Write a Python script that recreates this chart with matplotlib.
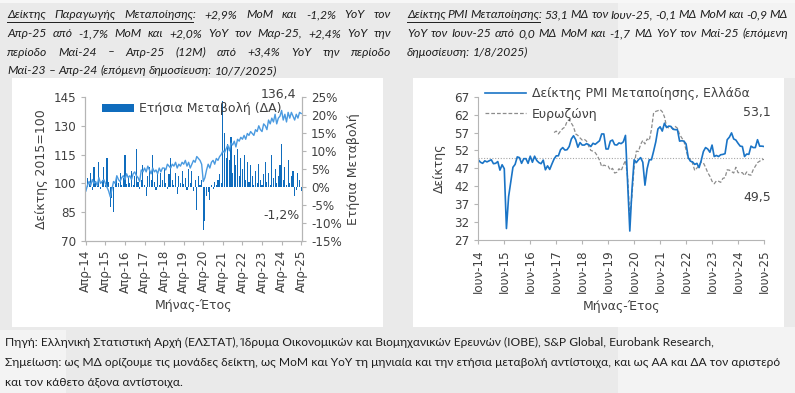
import matplotlib
matplotlib.use('Agg')
import matplotlib.pyplot as plt
import numpy as np
from matplotlib.patches import Rectangle, Patch
from matplotlib.lines import Line2D

# ---------------- DATA ----------------
# Industrial production index (2015=100), Apr-14 .. Apr-25
ipi_index = [
    96, 99, 101, 99, 102, 100, 101, 99, 103, 100, 101, 102,
    100, 98, 96, 93, 97, 101, 100, 104, 102, 101, 103, 104,
    102, 105, 103, 104, 102, 105, 106, 104, 103, 101, 107, 106,
    108, 106, 109, 107, 105, 108, 106, 107, 105, 108, 106, 108,
    108, 107, 110, 109, 108, 110, 109, 111, 108, 110, 109, 111,
    110, 112, 109, 111, 108, 110, 112, 111, 114, 113, 112, 110,
    101, 103, 107, 110, 108, 111, 112, 110, 113, 112, 114, 115,
    117, 116, 118, 120, 117, 121, 120, 122, 119, 123, 122, 124,
    123, 125, 123, 126, 125, 127, 126, 125, 128, 127, 130, 128,
    127, 131, 130, 128, 133, 131, 134, 132, 136, 131, 134, 135,
    138, 133, 136, 132, 137, 134, 137, 135, 133, 136, 134, 137,
    136.4]
# Year-on-year change (%), Apr-14 .. Apr-25
ipi_yoy = [
    -1.5, 2.5, 0.8, 4.0, -0.8, 5.5, 1.0, 0.3, 7.0, -0.6, 2.0, 5.5,
    0.5, 8.0, 1.5, -5.5, -3.0, -7.0, 1.5, 3.0, 1.0, 4.0, 0.5, 2.5,
    9.0, 0.8, 2.5, 1.0, 4.5, 0.5, 3.0, 10.5, 1.5, -0.5, 2.0, 6.0,
    0.5, -2.5, 3.0, 5.5, 2.0, 9.0, 1.5, -0.8, 3.5, 0.5, 4.0, 2.0,
    5.0, 1.0, -0.5, 3.5, 8.0, 2.0, 0.5, 4.0, -2.0, 3.0, 1.0, 4.5,
    0.8, 2.5, -0.8, 5.0, 1.0, 4.5, -1.0, 2.0, -6.5, 3.0, 0.5, 2.0,
    -12.0, -9.5, -2.5, -1.5, -3.5, 0.5, -0.5, 1.5, 0.5, 2.0, 3.5, 1.0,
    24.0, 15.0, 8.0, 12.0, 7.5, 14.0, 4.0, 9.0, 6.0, 10.5, 3.0, 8.0,
    5.0, 9.0, 2.0, 7.0, 1.5, 6.0, 3.0, 0.5, 4.5, 1.0, 6.5, 2.0,
    0.5, 3.5, 7.0, 1.5, 4.0, 0.5, 9.0, 2.5, 5.0, 1.0, 3.0, 6.0,
    12.0, 2.0, 5.5, 0.5, 7.5, 1.0, 3.0, 4.5, -2.5, -0.8, 4.0, 2.0,
    -1.2]
ipi_ticklabels = ['Απρ-14', 'Απρ-15', 'Απρ-16', 'Απρ-17', 'Απρ-18', 'Απρ-19',
                  'Απρ-20', 'Απρ-21', 'Απρ-22', 'Απρ-23', 'Απρ-24', 'Απρ-25']

# Greece manufacturing PMI, Jun-14 .. Jun-25
pmi_gr = [
    49.4, 48.7, 48.4, 49.1, 48.8, 49.1, 49.4,
    48.3, 48.4, 48.9, 46.5, 48.0, 46.9, 30.2, 39.1, 43.3, 47.3, 48.1, 50.2,
    50.0, 48.4, 49.7, 49.7, 48.4, 50.4, 48.7, 50.4, 49.2, 48.6, 48.3, 49.3,
    46.6, 47.7, 46.7, 48.2, 49.6, 50.5, 50.5, 52.2, 52.8, 52.1, 52.2, 53.1,
    55.2, 56.1, 55.0, 52.9, 54.2, 53.5, 53.5, 53.9, 53.6, 53.1, 54.0, 53.7,
    54.2, 54.7, 56.6, 56.6, 52.4, 52.4, 54.6, 54.9, 53.6, 53.5, 54.1, 53.9,
    54.4, 56.2, 42.5, 29.5, 41.1, 49.4, 48.6, 49.4, 50.0, 48.7, 42.3, 46.9,
    49.4, 49.4, 51.8, 54.4, 58.0, 58.6, 57.4, 59.6, 58.4, 58.8, 58.7, 57.9,
    57.8, 57.8, 54.6, 54.7, 54.6, 53.8, 50.0, 49.0, 48.8, 48.1, 48.4, 47.2,
    49.2, 51.7, 52.8, 52.4, 51.5, 53.5, 50.3, 50.6, 50.3, 50.8, 50.9, 51.1,
    55.0, 55.7, 56.9, 55.2, 54.9, 54.0, 53.2, 53.1, 50.3, 51.0, 50.9, 53.2,
    52.8, 52.8, 55.0, 53.2, 53.2, 53.1]
# Eurozone manufacturing PMI, May-17 .. Jun-25
pmi_ez_start = 35  # months after Jun-14 (May-17)
pmi_ez = [
    57.0, 57.4, 56.6, 57.4, 58.1, 58.5, 60.1, 60.6,
    59.6, 58.6, 56.6, 56.2, 55.5, 54.9, 55.1, 54.6, 53.2, 52.0, 51.8, 51.4,
    50.5, 49.3, 47.5, 47.9, 47.7, 47.6, 46.5, 47.0, 45.7, 45.9, 46.9, 46.3,
    47.9, 49.2, 44.5, 33.4, 39.4, 47.4, 51.8, 51.7, 53.7, 54.8, 53.8, 55.2,
    54.8, 57.9, 62.5, 62.9, 63.1, 63.4, 62.8, 61.4, 58.6, 58.3, 58.4, 58.0,
    58.7, 58.2, 56.5, 55.5, 54.6, 52.1, 49.8, 49.6, 48.4, 46.4, 47.1, 47.8,
    48.8, 48.5, 47.3, 45.8, 44.8, 43.4, 42.7, 43.5, 43.4, 43.1, 44.2, 44.4,
    46.6, 46.5, 46.1, 45.7, 47.3, 45.8, 45.8, 45.8, 45.0, 46.0, 45.2, 45.1,
    46.6, 47.6, 48.6, 49.0, 49.4, 49.5]
pmi_ticklabels = ['Ιουν-14', 'Ιουν-15', 'Ιουν-16', 'Ιουν-17', 'Ιουν-18', 'Ιουν-19',
                  'Ιουν-20', 'Ιουν-21', 'Ιουν-22', 'Ιουν-23', 'Ιουν-24', 'Ιουν-25']

# ---------------- FIGURE ----------------
W, H = 795, 393
fig = plt.figure(figsize=(W / 100, H / 100), dpi=100, facecolor='#eaeaea')
renderer = fig.canvas.get_renderer()


def fx(px):
    return px / W


def fy(py):
    return 1 - py / H


def rect(x0, y0, x1, y1, color):
    fig.patches.append(Rectangle((fx(x0), fy(y1)), (x1 - x0) / W, (y1 - y0) / H,
                                 transform=fig.transFigure, facecolor=color,
                                 edgecolor='none', zorder=-10))


# background areas
rect(618, 0, 795, 78, '#f3f3f3')
rect(618, 327, 795, 393, '#f3f3f3')
rect(0, 330, 66, 393, '#f3f3f3')
rect(0, 0, 795, 3, '#f7f7f7')
rect(12, 78, 383, 327, 'white')
rect(413, 78, 784, 327, 'white')

TXT = '#1e1e1e'
top_kw = dict(family=['Lato', 'Noto Sans', 'DejaVu Sans'], style='italic', color=TXT)


def text_width(s, **kw):
    t = fig.text(0, 0, s, **kw)
    w = t.get_window_extent(renderer).width
    t.remove()
    return w


def place_words(words, x0, x1, yc, justify=True, **kw):
    ts = [fig.text(0, 0, w, va='center', ha='left', **kw) for w in words]
    ws = [t.get_window_extent(renderer).width for t in ts]
    sp = text_width('a b', **kw) - text_width('ab', **kw)
    gap = (x1 - x0 - sum(ws)) / (len(ws) - 1) if justify else sp
    x = x0
    pos = []
    for t, w in zip(ts, ws):
        t.set_position((fx(x), fy(yc)))
        pos.append((x, w))
        x += w + gap
    return pos


# fit font size of top text
l4 = 'Μαϊ-23 – Απρ-24 (επόμενη δημοσίευση: 10/7/2025)'
fs_top = 10 * 270 / text_width(l4, size=10, **top_kw)
top_kw['size'] = fs_top

left_lines = [
    'Δείκτης Παραγωγής Μεταποίησης: +2,9% MoM και -1,2% YoY τον',
    'Απρ-25 από -1,7% MoM και +2,0% YoY τον Μαρ-25, +2,4% YoY την',
    'περίοδο Μαϊ-24 – Απρ-25 (12M) από +3,4% YoY την περίοδο',
    l4]
ys = [15, 33.5, 52, 70.5]
for i, (ln, y) in enumerate(zip(left_lines, ys)):
    pos = place_words(ln.split(' '), 7, 391, y, justify=(i < 3), **top_kw)
    if i == 0:
        xend = pos[2][0] + text_width('Μεταποίησης', **top_kw)
        fig.add_artist(Line2D([fx(7), fx(xend)], [fy(y + 7), fy(y + 7)],
                              color=TXT, lw=0.7, transform=fig.transFigure))

right_lines = [
    'Δείκτης PMI Μεταποίησης: 53,1 ΜΔ τον Ιουν-25, -0,1 ΜΔ MoM και -0,9 ΜΔ',
    'YoY τον Ιουν-25 από 0,0 ΜΔ MoM και -1,7 ΜΔ YoY τον Μαϊ-25 (επόμενη',
    'δημοσίευση: 1/8/2025)']
for i, (ln, y) in enumerate(zip(right_lines, ys)):
    pos = place_words(ln.split(' '), 407, 788, y, justify=(i < 2), **top_kw)
    if i == 0:
        xend = pos[2][0] + text_width('Μεταποίησης', **top_kw)
        fig.add_artist(Line2D([fx(407), fx(xend)], [fy(y + 7), fy(y + 7)],
                              color=TXT, lw=0.7, transform=fig.transFigure))

# bottom notes
bot_kw = dict(family=['Lato', 'Noto Sans', 'DejaVu Sans'], color=TXT)
b2 = ('Σημείωση: ως ΜΔ ορίζουμε τις μονάδες δείκτη, ως MoM και YoY τη μηνιαία και την ετήσια '
      'μεταβολή αντίστοιχα, και ως ΑΑ και ΔΑ τον αριστερό')
fs_bot = 10 * 777 / text_width(b2, size=10, **bot_kw)
bot_kw['size'] = fs_bot
bottom_lines = [
    'Πηγή: Ελληνική Στατιστική Αρχή (ΕΛΣΤΑΤ), Ίδρυμα Οικονομικών και Βιομηχανικών Ερευνών (ΙΟΒΕ), S&P Global, Eurobank Research,',
    b2,
    'και τον κάθετο άξονα αντίστοιχα.']
for ln, y in zip(bottom_lines, [342, 362.5, 383]):
    fig.text(fx(5), fy(y), ln, va='center', ha='left', **bot_kw)

# ---------------- CHART STYLE ----------------
CF = 'DejaVu Sans'
CS = 8.6
CC = '#404040'
SPC = '#b5b5b5'


def style_axis(ax):
    for s in ax.spines.values():
        s.set_color(SPC)
        s.set_linewidth(0.8)
    ax.spines['top'].set_visible(False)
    ax.tick_params(colors=SPC, labelcolor=CC, labelsize=CS, length=3, width=0.8)
    for lab in ax.get_xticklabels() + ax.get_yticklabels():
        lab.set_family(CF)
    ax.set_facecolor('none')


# ---------------- LEFT CHART ----------------
axB = fig.add_axes([fx(85), fy(241), (302 - 85) / W, (241 - 97) / H])
axI = axB.twinx()
xi = np.arange(len(ipi_yoy))
axB.bar(xi, ipi_yoy, width=0.7, color='#0f6cbd', linewidth=0)
axB.set_ylim(-15, 25)
axB.set_yticks(np.arange(-15, 26, 5))
axB.set_yticklabels([f'{v}%' for v in range(-15, 26, 5)])
axB.set_xlim(-0.5, len(ipi_yoy) - 0.5)
axB.set_xticks(np.arange(0, len(ipi_yoy), 12))
axB.set_xticklabels(ipi_ticklabels, rotation=90)
axB.set_xlabel('Μήνας-Έτος', family=CF, size=CS + 0.4, color=CC, labelpad=5)
style_axis(axB)

axI.plot(xi, ipi_index, color='#4a9ae0', lw=1.0)
axI.set_ylim(70, 145)
axI.set_yticks(np.arange(70, 146, 15))
style_axis(axI)

# put bar axis (yoy) on the right and index axis on the left
axB.yaxis.tick_right()
axB.yaxis.set_label_position('right')
axB.set_ylabel('Ετήσια Μεταβολή', family=CF, size=CS + 0.4, color=CC, labelpad=4)
axI.yaxis.tick_left()
axI.yaxis.set_label_position('left')
axI.set_ylabel('Δείκτης 2015=100', family=CF, size=CS + 0.4, color=CC, labelpad=4)

axI.legend(handles=[Patch(facecolor='#0f6cbd', edgecolor='none', label='Ετήσια Μεταβολή (ΔΑ)')],
           loc='center left', bbox_to_anchor=(0.055, 0.917), frameon=False,
           handlelength=2.6, handleheight=0.5, handletextpad=0.4, borderaxespad=0,
           prop=dict(family=CF, size=CS + 0.4))
for t in axI.get_legend().get_texts():
    t.set_color(CC)
axI.text(0.89, 1.02, '136,4', transform=axI.transAxes, ha='center', va='center',
         family=CF, size=CS + 0.4, color=CC)
axI.text(0.905, 0.18, '-1,2%', transform=axI.transAxes, ha='center', va='center',
         family=CF, size=CS + 0.4, color=CC)

# ---------------- RIGHT CHART ----------------
axP = fig.add_axes([fx(478.3), fy(240), (764 - 478.3) / W, (240 - 96.7) / H])
xp = np.arange(len(pmi_gr))
axP.axhline(50, color='#a6a6a6', lw=0.8, ls=(0, (1, 1.5)))
axP.plot(np.arange(pmi_ez_start, pmi_ez_start + len(pmi_ez)), pmi_ez, color='#8c8c8c',
         lw=0.9, ls=(0, (3, 1.6)), label='Ευρωζώνη')
axP.plot(xp, pmi_gr, color='#1a74c6', lw=1.2, label='Δείκτης PMI Μεταποίησης, Ελλάδα')
axP.set_ylim(27, 67)
axP.set_yticks(np.arange(27, 68, 5))
axP.set_xlim(0, len(pmi_gr) - 1)
axP.set_xticks(np.arange(0, len(pmi_gr), 12))
axP.set_xticklabels(pmi_ticklabels, rotation=90)
axP.spines['right'].set_visible(False)
axP.set_ylabel('Δείκτης', family=CF, size=CS + 0.4, color=CC, labelpad=6)
axP.set_xlabel('Μήνας-Έτος', family=CF, size=CS + 0.4, color=CC, labelpad=5)
style_axis(axP)
h, l = axP.get_legend_handles_labels()
leg = axP.legend(h[::-1], l[::-1], loc='upper left', bbox_to_anchor=(0.005, 1.1),
                 frameon=False, handlelength=3.3, handletextpad=0.5, labelspacing=0.6,
                 borderaxespad=0, prop=dict(family=CF, size=CS + 0.4))
for t in leg.get_texts():
    t.set_color(CC)
axP.text(0.975, 0.893, '53,1', transform=axP.transAxes, ha='center', va='center',
         family=CF, size=CS + 0.4, color=CC)
axP.text(0.975, 0.30, '49,5', transform=axP.transAxes, ha='center', va='center',
         family=CF, size=CS + 0.4, color=CC)

fig.savefig('out.png', dpi=100, facecolor=fig.get_facecolor())
